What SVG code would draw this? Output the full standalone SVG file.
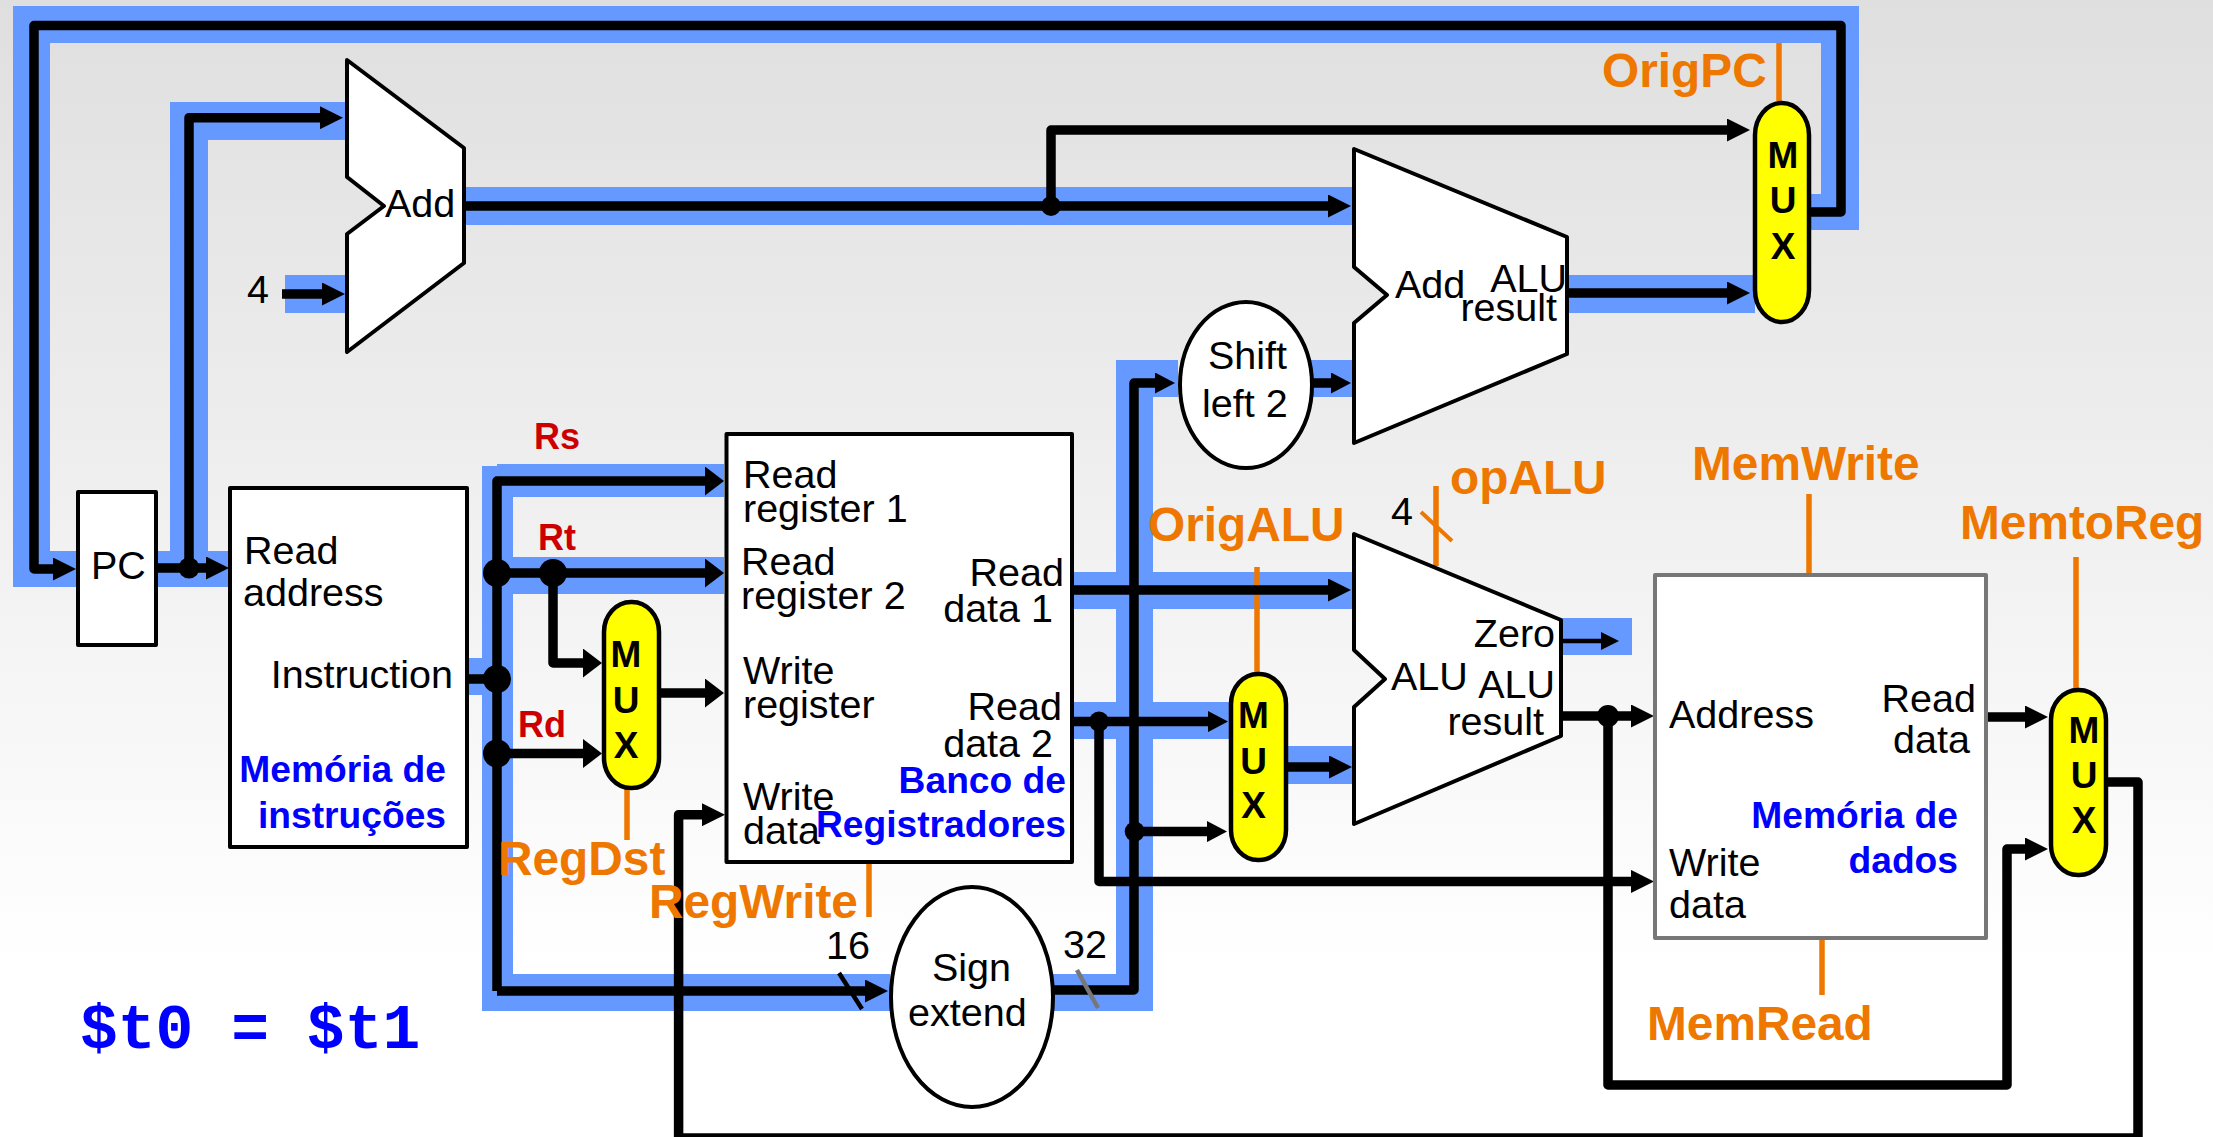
<svg xmlns="http://www.w3.org/2000/svg" width="2213" height="1137" viewBox="0 0 2213 1137">
<style>
text{font-family:"Liberation Sans",Arial,sans-serif;font-size:39.5px;fill:#000}
.b{font-weight:bold;font-size:37.2px;fill:#0000ff}
.c{font-weight:bold;font-size:47.8px;fill:#ee7700}
.r{font-weight:bold;font-size:36px;fill:#cc0000}
.e{text-anchor:end}
.m{font-weight:bold;font-size:37px;text-anchor:middle}
.hl{fill:#6699ff}
.w{fill:none;stroke:#000;stroke-width:9.5;stroke-linejoin:round}
.o{fill:none;stroke:#ee7700;stroke-width:5.5}
.box{fill:#fff;stroke:#000;stroke-width:4;stroke-linejoin:round}
.mux{fill:#ffff00;stroke:#000;stroke-width:4.5}
.d{fill:#000}
</style>
<defs>
<linearGradient id="bg" x1="0" y1="0" x2="0" y2="1"><stop offset="0" stop-color="#dfdfdf"/><stop offset="0.85" stop-color="#ffffff"/><stop offset="1" stop-color="#ffffff"/></linearGradient>
<marker id="a" markerUnits="userSpaceOnUse" markerWidth="23" markerHeight="23" refX="1" refY="11.5" orient="auto"><path d="M0 0L23 11.5L0 23Z"/></marker>
<marker id="t" markerUnits="userSpaceOnUse" markerWidth="19" markerHeight="29" refX="1" refY="14.5" orient="auto"><path d="M0 0L19 14.5L0 29Z"/></marker>
<marker id="s" markerUnits="userSpaceOnUse" markerWidth="20" markerHeight="21" refX="1" refY="10.5" orient="auto"><path d="M0 0L20 10.5L0 21Z"/></marker>
<marker id="n" markerUnits="userSpaceOnUse" markerWidth="18" markerHeight="18" refX="1" refY="9" orient="auto"><path d="M0 0L18 9L0 18Z"/></marker>
</defs>
<rect width="2213" height="1137" fill="url(#bg)"/>
<g id="highlight" class="hl">
<rect x="13" y="6" width="1846" height="37"/>
<rect x="13" y="6" width="37" height="581"/>
<rect x="13" y="551" width="216" height="36"/>
<rect x="170" y="102" width="175" height="38"/>
<rect x="170" y="102" width="38" height="485"/>
<rect x="285" y="275" width="60" height="38"/>
<rect x="464" y="187" width="888" height="38"/>
<rect x="1821" y="6" width="38" height="224"/>
<rect x="1809" y="194" width="50" height="36"/>
<rect x="1567" y="275" width="188" height="38"/>
<rect x="1116" y="360" width="37" height="651"/>
<rect x="1116" y="360" width="62" height="37"/>
<rect x="1310" y="360" width="42" height="37"/>
<rect x="482" y="466" width="31" height="545"/>
<rect x="497" y="464" width="227" height="33"/>
<rect x="482" y="557" width="242" height="37"/>
<rect x="467" y="658" width="20" height="37"/>
<rect x="482" y="974" width="408" height="37"/>
<rect x="1053" y="974" width="100" height="37"/>
<rect x="1072" y="572" width="281" height="37"/>
<rect x="1072" y="702" width="158" height="37"/>
<rect x="1286" y="746" width="67" height="38"/>
<rect x="1561" y="618" width="71" height="37"/>
</g>
<g id="control-lines" class="o">
<path d="M1779 43V101"/>
<path d="M627 789V840"/>
<path d="M869 862V917"/>
<path d="M1257 567V673"/>
<path d="M1436 486V566"/>
<path d="M1421 512L1452 541" stroke-width="4"/>
<path d="M1809 494V575"/>
<path d="M2076 557V689"/>
<path d="M1822 938V995"/>
</g>
<g id="connectors">
<path class="w" d="M1809 212H1841V25.5H34V569H54" marker-end="url(#a)"/>
<path class="w" d="M156 568H207" marker-end="url(#a)"/>
<path class="w" d="M189 568V117.7H321" marker-end="url(#a)"/>
<path class="w" d="M282 294H323" marker-end="url(#a)"/>
<path class="w" d="M464 206H1329" marker-end="url(#a)"/>
<path class="w" d="M1051 206V130H1728" marker-end="url(#a)"/>
<path class="w" d="M1567 293H1728" marker-end="url(#a)"/>
<path class="w" d="M1313 383H1332" marker-end="url(#s)"/>
<path class="w" d="M1053 990H1134V383H1156" marker-end="url(#s)"/>
<path class="w" d="M467 679H497"/>
<path class="w" d="M497 991V481H706" marker-end="url(#t)"/>
<path class="w" d="M497 991H866" marker-end="url(#a)"/>
<path class="w" d="M497 573H706" marker-end="url(#t)"/>
<path class="w" d="M553 573V663H584" marker-end="url(#t)"/>
<path class="w" d="M497 753.5H584" marker-end="url(#t)"/>
<path class="w" d="M659 693H706" marker-end="url(#t)"/>
<path class="w" d="M1072 590H1329" marker-end="url(#a)"/>
<path class="w" d="M1072 721.6H1209" marker-end="url(#s)"/>
<path class="w" d="M1099 721.6V881.4H1632" marker-end="url(#a)"/>
<path class="w" d="M1134 831.6H1208" marker-end="url(#s)"/>
<path class="w" d="M1286 767H1330" marker-end="url(#a)"/>
<path class="w" d="M1561 641H1602" style="stroke-width:4.5" marker-end="url(#n)"/>
<path class="w" d="M1561 716H1632" marker-end="url(#a)"/>
<path class="w" d="M1608 716V1085H2007V849H2026" marker-end="url(#a)"/>
<path class="w" d="M1988 717H2026" marker-end="url(#a)"/>
<path class="w" d="M2106 782H2138V1138H678.6V814.7H703" marker-end="url(#a)"/>
<circle class="d" cx="189" cy="568" r="10.5"/>
<circle class="d" cx="1051" cy="206" r="10"/>
<circle class="d" cx="497" cy="573" r="14"/>
<circle class="d" cx="553" cy="573" r="14"/>
<circle class="d" cx="497" cy="679" r="14"/>
<circle class="d" cx="497" cy="753.5" r="14"/>
<circle class="d" cx="1099" cy="721.6" r="10"/>
<circle class="d" cx="1134.7" cy="831.6" r="10"/>
<circle class="d" cx="1608" cy="716" r="11"/>
<path d="M839 973L862 1009" fill="none" stroke="#000" stroke-width="4.5"/>
<path d="M1077 970L1098 1008" fill="none" stroke="#777" stroke-width="4.5"/>
</g>
<g id="add-pc">
<path class="box" d="M347 60L464 148V263L347 352V234L384 206L347 177Z"/>
<text x="385" y="217">Add</text>
</g>
<text x="247" y="303">4</text>
<g id="add-branch">
<path class="box" d="M1354 149L1567 237V354L1354 443V323L1387 295L1354 267Z"/>
<text x="1395" y="298">Add</text>
<text x="1567" y="292" class="e">ALU</text>
<text x="1557" y="321" class="e">result</text>
</g>
<g id="mux-pc">
<rect class="mux" x="1755" y="103" width="54" height="219" rx="27" ry="32"/>
<text class="m" x="1783" y="168">M</text><text class="m" x="1783" y="213">U</text><text class="m" x="1783" y="259">X</text>
</g>
<text class="c" x="1602" y="87">OrigPC</text>
<g id="shift">
<ellipse class="box" cx="1246" cy="385" rx="66" ry="83"/>
<text x="1208" y="369">Shift</text>
<text x="1202" y="417">left 2</text>
</g>
<g id="pc">
<rect class="box" x="78" y="492" width="78" height="153"/>
<text x="91" y="579">PC</text>
</g>
<g id="instruction-memory">
<rect class="box" x="230" y="488" width="237" height="359"/>
<text x="244" y="564">Read</text>
<text x="243" y="606">address</text>
<text x="453" y="688" class="e">Instruction</text>
<text x="446" y="782" class="b e">Memória de</text>
<text x="446" y="828" class="b e">instruções</text>
</g>
<text class="r" x="534" y="449">Rs</text>
<text class="r" x="538" y="550">Rt</text>
<text class="r" x="518" y="737">Rd</text>
<g id="mux-regdst">
<rect class="mux" x="604" y="602" width="55" height="186" rx="27" ry="30"/>
<text class="m" x="626" y="667">M</text><text class="m" x="626" y="713">U</text><text class="m" x="626" y="758">X</text>
</g>
<text class="c" x="498" y="875">RegDst</text>
<text class="c" x="649" y="918">RegWrite</text>
<g id="register-file">
<rect class="box" x="726.5" y="434" width="345.5" height="428"/>
<text x="743" y="488">Read</text>
<text x="743" y="522">register 1</text>
<text x="741" y="575">Read</text>
<text x="741" y="609">register 2</text>
<text x="743" y="684">Write</text>
<text x="743" y="718">register</text>
<text x="743" y="810">Write</text>
<text x="743" y="844">data</text>
<text x="1064" y="586" class="e">Read</text>
<text x="1053" y="622" class="e">data 1</text>
<text x="1062" y="720" class="e">Read</text>
<text x="1053" y="757" class="e">data 2</text>
<text x="1066" y="793" class="b e">Banco de</text>
<text x="1066" y="837" class="b e">Registradores</text>
</g>
<g id="sign-extend">
<ellipse class="box" cx="972" cy="997" rx="81" ry="110"/>
<text x="932" y="981">Sign</text>
<text x="908" y="1026">extend</text>
</g>
<text x="826" y="959">16</text>
<text x="1063" y="958">32</text>
<g id="mux-alu">
<rect class="mux" x="1231" y="674" width="55" height="186" rx="27" ry="30"/>
<text class="m" x="1253.5" y="728">M</text><text class="m" x="1253.5" y="774">U</text><text class="m" x="1253.5" y="818">X</text>
</g>
<text class="c" x="1148" y="541">OrigALU</text>
<text x="1391" y="525">4</text>
<text class="c" x="1450" y="494">opALU</text>
<g id="alu">
<path class="box" d="M1354 534L1561 620V736L1354 824V707L1385 679L1354 650Z"/>
<text x="1391" y="690">ALU</text>
<text x="1555" y="647" class="e">Zero</text>
<text x="1555" y="698" class="e">ALU</text>
<text x="1544" y="735" class="e">result</text>
</g>
<g id="data-memory">
<rect class="box" x="1655" y="575" width="331" height="363" style="stroke:#777"/>
<text x="1669" y="728">Address</text>
<text x="1976" y="712" class="e">Read</text>
<text x="1970" y="753" class="e">data</text>
<text x="1669" y="876">Write</text>
<text x="1669" y="918">data</text>
<text x="1958" y="828" class="b e">Memória de</text>
<text x="1958" y="873" class="b e">dados</text>
</g>
<text class="c" x="1692" y="480">MemWrite</text>
<text class="c" x="1960" y="539">MemtoReg</text>
<text class="c" x="1647" y="1040">MemRead</text>
<g id="mux-memtoreg">
<rect class="mux" x="2051" y="690" width="55" height="185" rx="27" ry="30"/>
<text class="m" x="2084" y="743">M</text><text class="m" x="2084" y="788">U</text><text class="m" x="2084" y="833">X</text>
</g>
<text x="80" y="1048" style="font-family:'Liberation Mono',monospace;font-weight:bold;font-size:63px;fill:#0000ff">$t0 = $t1</text>
</svg>
